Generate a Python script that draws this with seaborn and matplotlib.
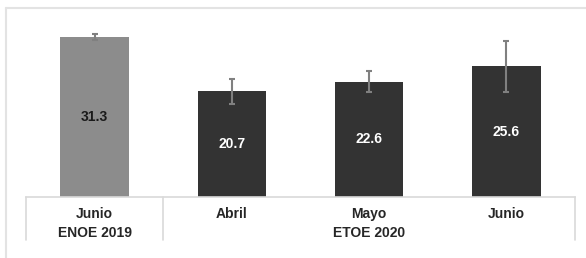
import matplotlib
matplotlib.use('Agg')
import matplotlib.pyplot as plt
from matplotlib.lines import Line2D
import seaborn as sns
import pandas as pd

# Data
periods = ['Junio 2019', 'Abril 2020', 'Mayo 2020', 'Junio 2020']
months = ['Junio', 'Abril', 'Mayo', 'Junio']
values = [31.3, 20.7, 22.6, 25.6]
errors = [0.6, 2.4, 2.1, 5.0]
groups = ['ENOE 2019', 'ETOE 2020']
group_centers = [0, 2]
bar_colors = ['#8c8c8c', '#333333', '#333333', '#333333']
label_colors = ['#1a1a1a', 'white', 'white', 'white']

df = pd.DataFrame({'period': periods, 'value': values})

sns.set_style('white')
plt.rcParams['font.family'] = ['Liberation Sans', 'DejaVu Sans']

fig = plt.figure(figsize=(5.86, 2.58), dpi=100)
ax = fig.add_axes([26 / 586, (258 - 197) / 258, (575 - 26) / 586, 189 / 258])

sns.barplot(data=df, x='period', y='value', hue='period', palette=bar_colors,
            order=periods, errorbar=None, width=0.5, legend=False, ax=ax,
            linewidth=0)
ax.errorbar(range(len(values)), values, yerr=errors, fmt='none',
            ecolor='#808080', elinewidth=1.5, capsize=2.5, capthick=1.5)

for i, v in enumerate(values):
    ax.text(i, v / 2, f'{v:.1f}', ha='center', va='center', fontsize=10,
            fontweight='bold', color=label_colors[i])

ax.set_xlim(-0.5, 3.5)
ax.set_ylim(0, 37.0)
ax.set_yticks([])
ax.set_xticks(range(len(months)))
ax.set_xticklabels(months, fontsize=10, fontweight='bold', color='#262626')
ax.tick_params(axis='x', length=0, pad=7)
ax.set_xlabel('')
ax.set_ylabel('')
for side in ['top', 'left', 'right']:
    ax.spines[side].set_visible(False)
ax.spines['bottom'].set_color('#d9d9d9')
ax.spines['bottom'].set_linewidth(1.2)

# group labels and separators below the axis
trans = ax.get_xaxis_transform()
for name, c in zip(groups, group_centers):
    ax.text(c, -0.19, name, transform=trans, ha='center', va='center',
            fontsize=10, fontweight='bold', color='#262626')
for x in [-0.5, 0.5, 3.5]:
    ax.plot([x, x], [0, -0.228], transform=trans, color='#d9d9d9',
            lw=1.2, clip_on=False)

# light outer frame (top and left)
fig.add_artist(Line2D([6 / 586, 1], [1 - 8 / 258, 1 - 8 / 258], color='#e3e3e3', lw=1.5))
fig.add_artist(Line2D([6 / 586, 6 / 586], [0, 1 - 8 / 258], color='#e3e3e3', lw=1.5))

fig.savefig('out.png', dpi=100)
